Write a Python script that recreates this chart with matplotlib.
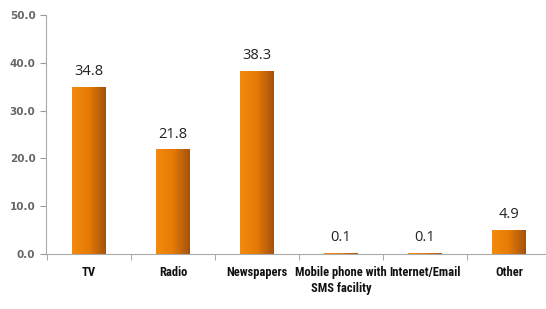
import numpy as np
import matplotlib.pyplot as plt
from matplotlib import font_manager
from matplotlib.colors import LinearSegmentedColormap
from matplotlib.ticker import FormatStrFormatter, FixedLocator

categories = ["TV", "Radio", "Newspapers", "Mobile phone with\nSMS facility",
              "Internet/Email", "Other"]
values = [34.8, 21.8, 38.3, 0.1, 0.1, 4.9]
y_ticks = [0, 10, 20, 30, 40, 50]

# condensed bold for category labels, if one is around
names = {f.name for f in font_manager.fontManager.ttflist}
narrow = [n for n in ["Liberation Sans Narrow", "DejaVu Sans Condensed", "Roboto Condensed",
                      "Open Sans Condensed"] if n in names]

fig = plt.figure(figsize=(5.46, 3.09), dpi=100)
ax = fig.add_axes([0.084, 0.178, 0.916, 0.773])

x = np.arange(len(categories))
bars = ax.bar(x, values, width=0.4, color="none", edgecolor="none")

# left-to-right orange gradient inside each bar
grad = LinearSegmentedColormap.from_list("bar", ["#f58a0f", "#e67a05", "#a4520c"])
g = np.linspace(0, 1, 64).reshape(1, -1)
for b in bars:
    x0, w, h = b.get_x(), b.get_width(), b.get_height()
    ax.imshow(g, cmap=grad, aspect="auto", extent=(x0, x0 + w, 0, h),
              zorder=2, interpolation="bilinear")

for xi, v in zip(x, values):
    ax.annotate(f"{v:.1f}", (xi, v), xytext=(0, 6), textcoords="offset points",
                ha="center", va="bottom", fontsize=10.5, color="#222222",
                family=["Open Sans", "DejaVu Sans"])

ax.set_xlim(-0.512, 5.44)
ax.set_ylim(0, 50)
ax.set_yticks(y_ticks)
ax.yaxis.set_major_formatter(FormatStrFormatter("%.1f"))
ax.tick_params(axis="y", labelsize=7.5, labelcolor="#666666", color="#999999",
               length=4, direction="out")
for lab in ax.get_yticklabels():
    lab.set_fontweight("bold")

ax.set_xticks(x)
ax.set_xticklabels(categories, family=narrow + ["Roboto", "DejaVu Sans"],
                   fontweight="bold", fontstretch="condensed", fontsize=9,
                   color="#111111", linespacing=1.3)
ax.tick_params(axis="x", which="major", length=0, pad=9)
ax.xaxis.set_minor_locator(FixedLocator(x - 0.5))
ax.tick_params(axis="x", which="minor", length=4, color="#999999", direction="out")

for side in ["top", "right"]:
    ax.spines[side].set_visible(False)
for side in ["left", "bottom"]:
    ax.spines[side].set_color("#aaaaaa")

fig.savefig("out.png", dpi=100)
